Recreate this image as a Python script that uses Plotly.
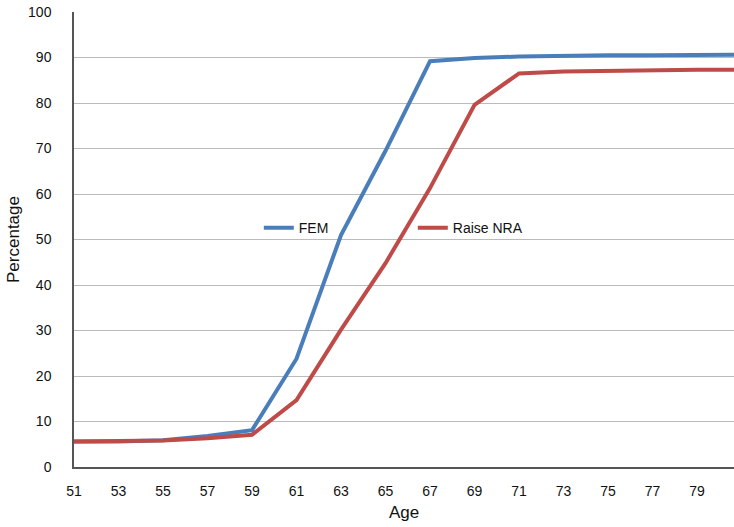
import plotly.graph_objects as go

ages = [51, 53, 55, 57, 59, 61, 63, 65, 67, 69, 71, 73, 75, 77, 79, 81]
fem = [5.6, 5.6, 5.9, 6.8, 8.1, 23.8, 51.0, 69.5, 89.2, 89.9, 90.2, 90.4, 90.5, 90.5, 90.6, 90.6]
raise_nra = [5.6, 5.6, 5.8, 6.3, 7.1, 14.7, 30.2, 44.8, 61.3, 79.6, 86.5, 86.9, 87.1, 87.2, 87.3, 87.3]
tick_vals = list(range(51, 81, 2))
y_ticks = list(range(0, 101, 10))

font = "Liberation Sans, Arial, Helvetica, sans-serif"

fig = go.Figure()
fig.add_trace(go.Scatter(x=ages, y=fem, mode="lines", name="FEM",
                         line=dict(color="#4A7EBB", width=4)))
fig.add_trace(go.Scatter(x=ages, y=raise_nra, mode="lines", name="Raise NRA",
                         line=dict(color="#BE4B48", width=4)))

fig.update_layout(
    width=734, height=527,
    margin=dict(l=74, r=0, t=12, b=60),
    paper_bgcolor="white", plot_bgcolor="white",
    font=dict(family=font, size=14, color="#111111"),
    legend=dict(orientation="h", x=0.28, y=0.525, xanchor="left", yanchor="middle",
                entrywidth=109, entrywidthmode="pixels",
                bgcolor="rgba(0,0,0,0)", font=dict(size=14)),
    xaxis=dict(range=[51, 80.66], tickvals=tick_vals, showgrid=False,
               showline=True, linecolor="#555555", linewidth=1.5,
               ticks="", zeroline=False, ticklabelstandoff=10,
               title=dict(text="Age", standoff=9)),
    yaxis=dict(range=[0, 100], tickvals=y_ticks, showgrid=True,
               gridcolor="#BBBBBB", gridwidth=1,
               showline=True, linecolor="#555555", linewidth=1.5,
               ticks="", zeroline=False, ticklabelstandoff=18,
               title=dict(text="Percentage", standoff=4)),
)

fig.write_html("out.html")
